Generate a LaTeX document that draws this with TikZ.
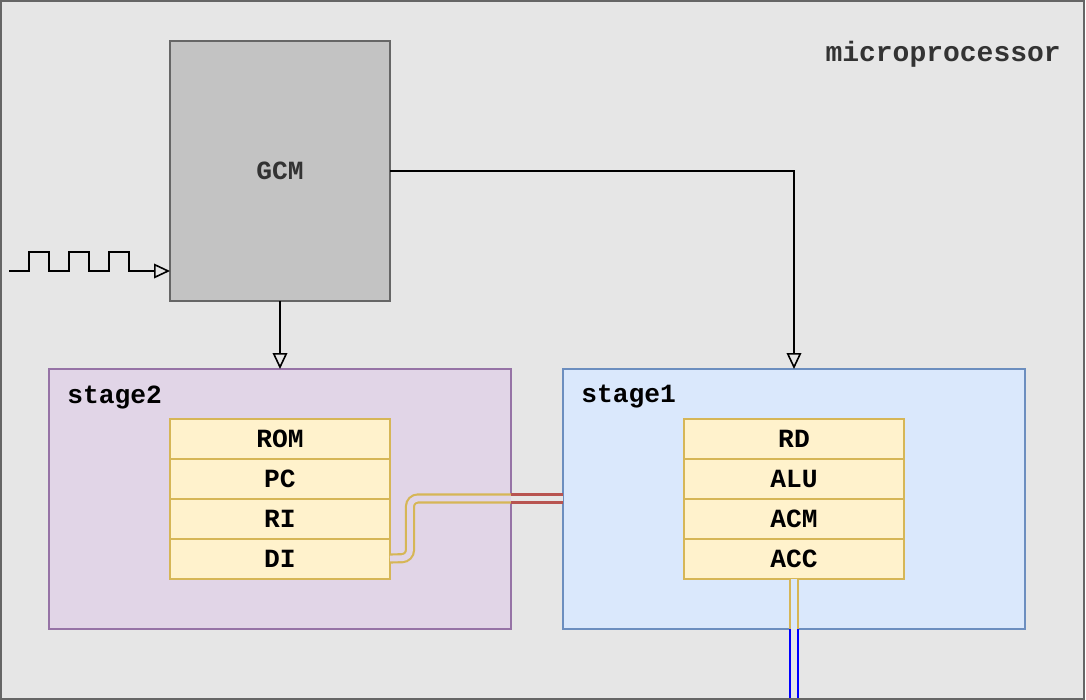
\documentclass[tikz,border=0pt]{standalone}
\usepackage{fontspec}
\setmonofont{Liberation Mono}
\usetikzlibrary{positioning,arrows.meta}
\definecolor{bggray}{HTML}{E6E6E6}
\definecolor{framegray}{HTML}{666666}
\definecolor{gcmfill}{HTML}{C3C3C3}
\definecolor{txtgray}{HTML}{333333}
\definecolor{purplefill}{HTML}{E1D5E7}
\definecolor{purpleline}{HTML}{9673A6}
\definecolor{bluefill}{HTML}{DAE8FC}
\definecolor{blueline}{HTML}{6C8EBF}
\definecolor{regfill}{HTML}{FFF2CC}
\definecolor{regline}{HTML}{D6B656}
\definecolor{linkred}{HTML}{B85450}
\tikzset{
  lbl/.style={font=\ttfamily\bfseries\fontsize{19.7pt}{23pt}\selectfont},
  reg/.style={draw=regline, fill=regfill, line width=1.5pt, minimum width=165pt,
    minimum height=30pt, inner sep=0pt, outer sep=0pt, lbl},
  stagebox/.style={line width=1.3pt, minimum width=346.5pt, minimum height=195pt,
    inner sep=0pt, outer sep=0pt},
  ctrl/.style={line width=1.2pt, -{Triangle[open,length=12pt,width=11pt]}},
  link/.style={line width=1.6pt, double distance=4.4pt, rounded corners=6pt},
}

\begin{document}
\begin{tikzpicture}[x=0.75pt, y=-0.75pt]
  \useasboundingbox (0,0) rectangle (1086,700);
  \draw[framegray, fill=bggray, line width=1.5pt] (1,1) rectangle (1083.5,698.5);
  \node[lbl, font=\ttfamily\bfseries\fontsize{21pt}{25pt}\selectfont, text=txtgray,
    anchor=east, inner sep=0pt] (title) at (1061,54) {microprocessor};

  % clock generator
  \node[draw=framegray, fill=gcmfill, line width=1.3pt, minimum width=165pt,
    minimum height=195pt, inner sep=0pt, outer sep=0pt, lbl, text=txtgray] (gcm) at (280,171) {GCM};

  % stages
  \node[stagebox, draw=purpleline, fill=purplefill] (stage2) at (280,499) {};
  \node[stagebox, draw=blueline, fill=bluefill] (stage1) at (794,499) {};
  \node[lbl, anchor=west, inner sep=0pt] (s2name) at (67,397) {stage2};
  \node[lbl, anchor=west, inner sep=0pt] (s1name) at (581,397) {stage1};

  % registers of stage2
  \node[reg] (rom) at (280,438.5) {ROM};
  \node[reg, below=0pt of rom] (pc) {PC};
  \node[reg, below=0pt of pc] (ri) {RI};
  \node[reg, below=0pt of ri] (di) {DI};

  % registers of stage1
  \node[reg] (rd) at (794,438.5) {RD};
  \node[reg, below=0pt of rd] (alu) {ALU};
  \node[reg, below=0pt of alu] (acm) {ACM};
  \node[reg, below=0pt of acm] (acc) {ACC};

  % control lines
  \draw[ctrl] (gcm.south) -- (stage2.north);
  \draw[ctrl] (gcm.east) -| (stage1.north);

  \coordinate (clk) at (9,271);
  \draw[ctrl]
    (clk) -- ++(20,0) -- ++(0,-19) -- ++(20,0) -- ++(0,19)
    -- ++(20,0) -- ++(0,-19) -- ++(20,0) -- ++(0,19)
    -- ++(20,0) -- ++(0,-19) -- ++(20,0) -- ++(0,19)
    -- (gcm.west |- clk);

  % data links
  \draw[link, regline, double=purplefill] (di.east) -- (410,558) -- (410,498.5)
    -- (stage2.east |- 0,498.5);
  \draw[link, linkred, double=bggray] (stage2.east |- 0,498.5) -- (stage1.west |- 0,498.5);

  \coordinate (out) at (794,698);
  \draw[link, regline, double=bluefill] (acc.south) -- (stage1.south);
  \draw[link, blue, double=bggray] (stage1.south) -- (out);
\end{tikzpicture}
\end{document}
